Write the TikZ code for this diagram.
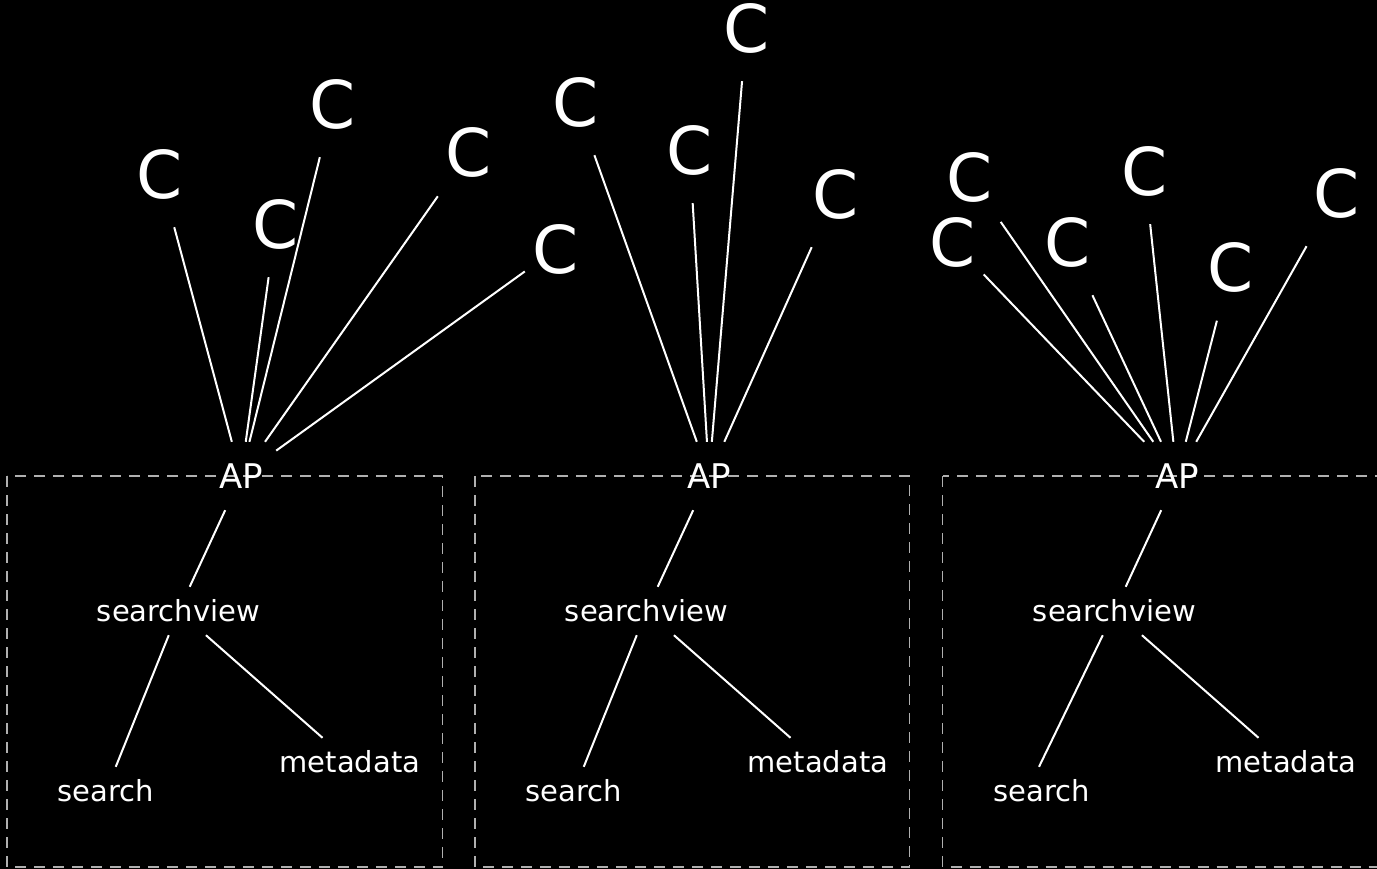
\documentclass[tikz,border=0pt]{standalone}
\usepackage{fontspec}
\setmainfont{DejaVu Sans}
\definecolor{boxgray}{HTML}{B0B0B0}
\begin{document}
\begin{tikzpicture}[x=1pt,y=-1pt,
  cnode/.style={text=white,font=\fontsize{66}{66}\selectfont,inner sep=0pt,minimum width=62pt,minimum height=106pt},
  apnode/.style={text=white,font=\fontsize{34}{34}\selectfont,inner sep=0pt,minimum width=70pt,minimum height=68pt},
  lbl/.style={text=white,font=\fontsize{29}{29}\selectfont,inner sep=0pt,minimum height=48pt},
  link/.style={draw=white,line width=2pt},
  panelbox/.style={draw=boxgray,line width=1.6pt,dash pattern=on 11pt off 8pt}]
\clip (0,0) rectangle (1377,869);
\fill[black] (0,0) rectangle (1377,869);
% dashed panels
\draw[panelbox] (7,476) rectangle (442.5,867);
\draw[panelbox] (475,476) rectangle (909.5,867);
\draw[panelbox] (942.5,476) rectangle (1400,867);
% ---------- panel 1
\node[apnode] (ap1) at (241,476) {AP};
\node[lbl] (sv1) at (178.5,611) {searchview};
\node[lbl] (se1) at (106,791) {search};
\node[lbl] (md1) at (350,762) {metadata};
\node[cnode] (c11) at (160,174) {C};
\node[cnode] (c12) at (276,224) {C};
\node[cnode] (c13) at (333,104) {C};
\node[cnode] (c14) at (469,152) {C};
\node[cnode] (c15) at (556,249) {C};
\foreach \c in {c11,c12,c13,c14,c15} \draw[link] (\c) -- (ap1);
\draw[link] (ap1) -- (sv1);
\draw[link] (sv1) -- (se1);
\draw[link] (sv1) -- (md1);
% ---------- panel 2
\node[apnode] (ap2) at (709,476) {AP};
\node[lbl] (sv2) at (646.5,611) {searchview};
\node[lbl] (se2) at (574,791) {search};
\node[lbl] (md2) at (818,762) {metadata};
\node[cnode] (c21) at (575.5,102) {C};
\node[cnode] (c22) at (689.5,150) {C};
\node[cnode] (c23) at (746.5,28) {C};
\node[cnode] (c24) at (835.5,194) {C};
\foreach \c in {c21,c22,c23,c24} \draw[link] (\c) -- (ap2);
\draw[link] (ap2) -- (sv2);
\draw[link] (sv2) -- (se2);
\draw[link] (sv2) -- (md2);
% ---------- panel 3
\node[apnode] (ap3) at (1177,476) {AP};
\node[lbl] (sv3) at (1114.5,611) {searchview};
\node[lbl] (se3) at (1042,791) {search};
\node[lbl] (md3) at (1286,762) {metadata};
\node[cnode] (c31) at (969.5,177) {C};
\node[cnode] (c32) at (952.5,242) {C};
\node[cnode] (c33) at (1067.5,242) {C};
\node[cnode] (c34) at (1144.5,171) {C};
\node[cnode] (c35) at (1230.5,267.5) {C};
\node[cnode] (c36) at (1336.5,193) {C};
\foreach \c in {c31,c32,c33,c34,c35,c36} \draw[link] (\c) -- (ap3);
\draw[link] (ap3) -- (sv3);
\draw[link] (sv3) -- ([xshift=-3pt]se3.north);
\draw[link] (sv3) -- (md3);
\end{tikzpicture}
\end{document}
